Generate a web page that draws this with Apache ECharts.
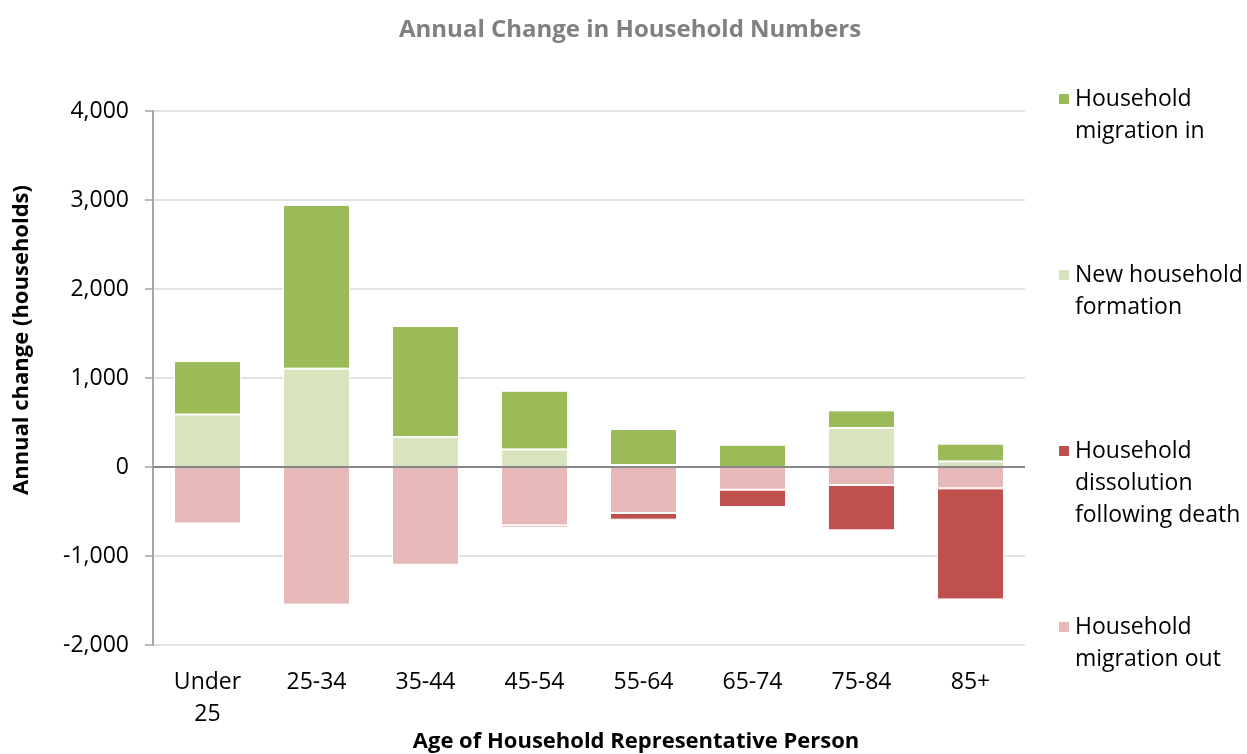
<!DOCTYPE html>
<html>
<head>
<meta charset="utf-8">
<script src="https://cdn.jsdelivr.net/npm/echarts@6/dist/echarts.min.js"></script>
<style>
  html, body { margin: 0; padding: 0; background: #fff; }
  #chart { width: 1247px; height: 754px; }
</style>
</head>
<body>
<div id="chart"></div>
<script>
// age groups
const categories = ['Under\n25', '25-34', '35-44', '45-54', '55-64', '65-74', '75-84', '85+']
// annual change in households
const newFormation = [590, 1105, 337, 198, 22, 0, 438, 63]
const migrationIn = [600, 1839, 1247, 659, 405, 250, 198, 199]
const migrationOut = [-634, -1547, -1098, -656, -517, -255, -202, -240]
const dissolution = [0, 0, 0, -25, -75, -195, -510, -1248]
const yTicks = { min: -2000, max: 4000, interval: 1000 }

const font = 'Open Sans'
const legendNames = {
  'Household migration in': 'Household\nmigration in',
  'New household formation': 'New household\nformation',
  'Household dissolution following death': 'Household\ndissolution\nfollowing death',
  'Household migration out': 'Household\nmigration out'
}

// one legend per item so the spacing can follow the original
function legendAt(name, top) {
  const lines = legendNames[name].split('\n').length
  return {
    data: [name],
    left: 1057,
    top: top,
    padding: 0,
    icon: 'rect',
    itemWidth: 12,
    itemHeight: 12,
    selectedMode: false,
    // empty lines above keep the icon level with the first line
    formatter: n => '\n'.repeat(lines - 1) + legendNames[n],
    textStyle: { fontFamily: font, fontSize: 23, color: '#000', lineHeight: 32 }
  }
}

const bar = (name, data, color) => ({
  name: name,
  type: 'bar',
  stack: 'all',
  data: data,
  barWidth: 67,
  itemStyle: { color: color, borderColor: '#fff', borderWidth: 1 }
})

const chart = echarts.init(document.getElementById('chart'))
const series = [
  bar('New household formation', newFormation, '#D7E4BD'),
  bar('Household migration in', migrationIn, '#9BBB59'),
  bar('Household migration out', migrationOut, '#E6B9B8'),
  bar('Household dissolution following death', dissolution, '#C0504D')
]
// zero line
series[0].markLine = {
  silent: true,
  symbol: 'none',
  z: 10,
  label: { show: false },
  lineStyle: { color: '#888888', width: 2, type: 'solid' },
  data: [{ yAxis: 0 }]
}

chart.setOption({
  animation: false,
  title: {
    text: 'Annual Change in Household Numbers',
    left: 394,
    top: 13,
    textStyle: { fontFamily: font, fontSize: 24, fontWeight: 'bold', color: '#808080' }
  },
  legend: [
    legendAt('Household migration in', 51),
    legendAt('New household formation', 227),
    legendAt('Household dissolution following death', 371),
    legendAt('Household migration out', 579)
  ],
  grid: { left: 153, right: 222, top: 111, bottom: 109, outerBoundsMode: 'none' },
  xAxis: {
    type: 'category',
    data: categories,
    name: 'Age of Household Representative Person',
    nameLocation: 'middle',
    nameGap: 86,
    nameMoveOverlap: false,
    nameTextStyle: {
      fontFamily: font, fontSize: 22, fontWeight: 'bold', color: '#000',
      padding: [0, 0, 0, 94]
    },
    axisLine: { show: false, onZero: false },
    axisTick: { show: false },
    axisLabel: { fontFamily: font, fontSize: 23, color: '#000', lineHeight: 32, margin: 21 }
  },
  yAxis: {
    type: 'value',
    min: yTicks.min,
    max: yTicks.max,
    interval: yTicks.interval,
    name: 'Annual change (households)',
    nameLocation: 'middle',
    nameGap: 120,
    nameMoveOverlap: false,
    nameTextStyle: {
      fontFamily: font, fontSize: 22, fontWeight: 'bold', color: '#000',
      padding: [0, 0, 0, 76]
    },
    axisLine: { show: true, lineStyle: { color: '#a6a6a6', width: 2 } },
    axisTick: { show: true, length: 8, lineStyle: { color: '#a6a6a6', width: 1.5 } },
    axisLabel: {
      fontFamily: font, fontSize: 23, color: '#000', margin: 24,
      formatter: v => v.toLocaleString('en-US')
    },
    splitLine: { lineStyle: { color: '#d9d9d9', width: 1.5 } }
  },
  series: series
})
</script>
</body>
</html>
